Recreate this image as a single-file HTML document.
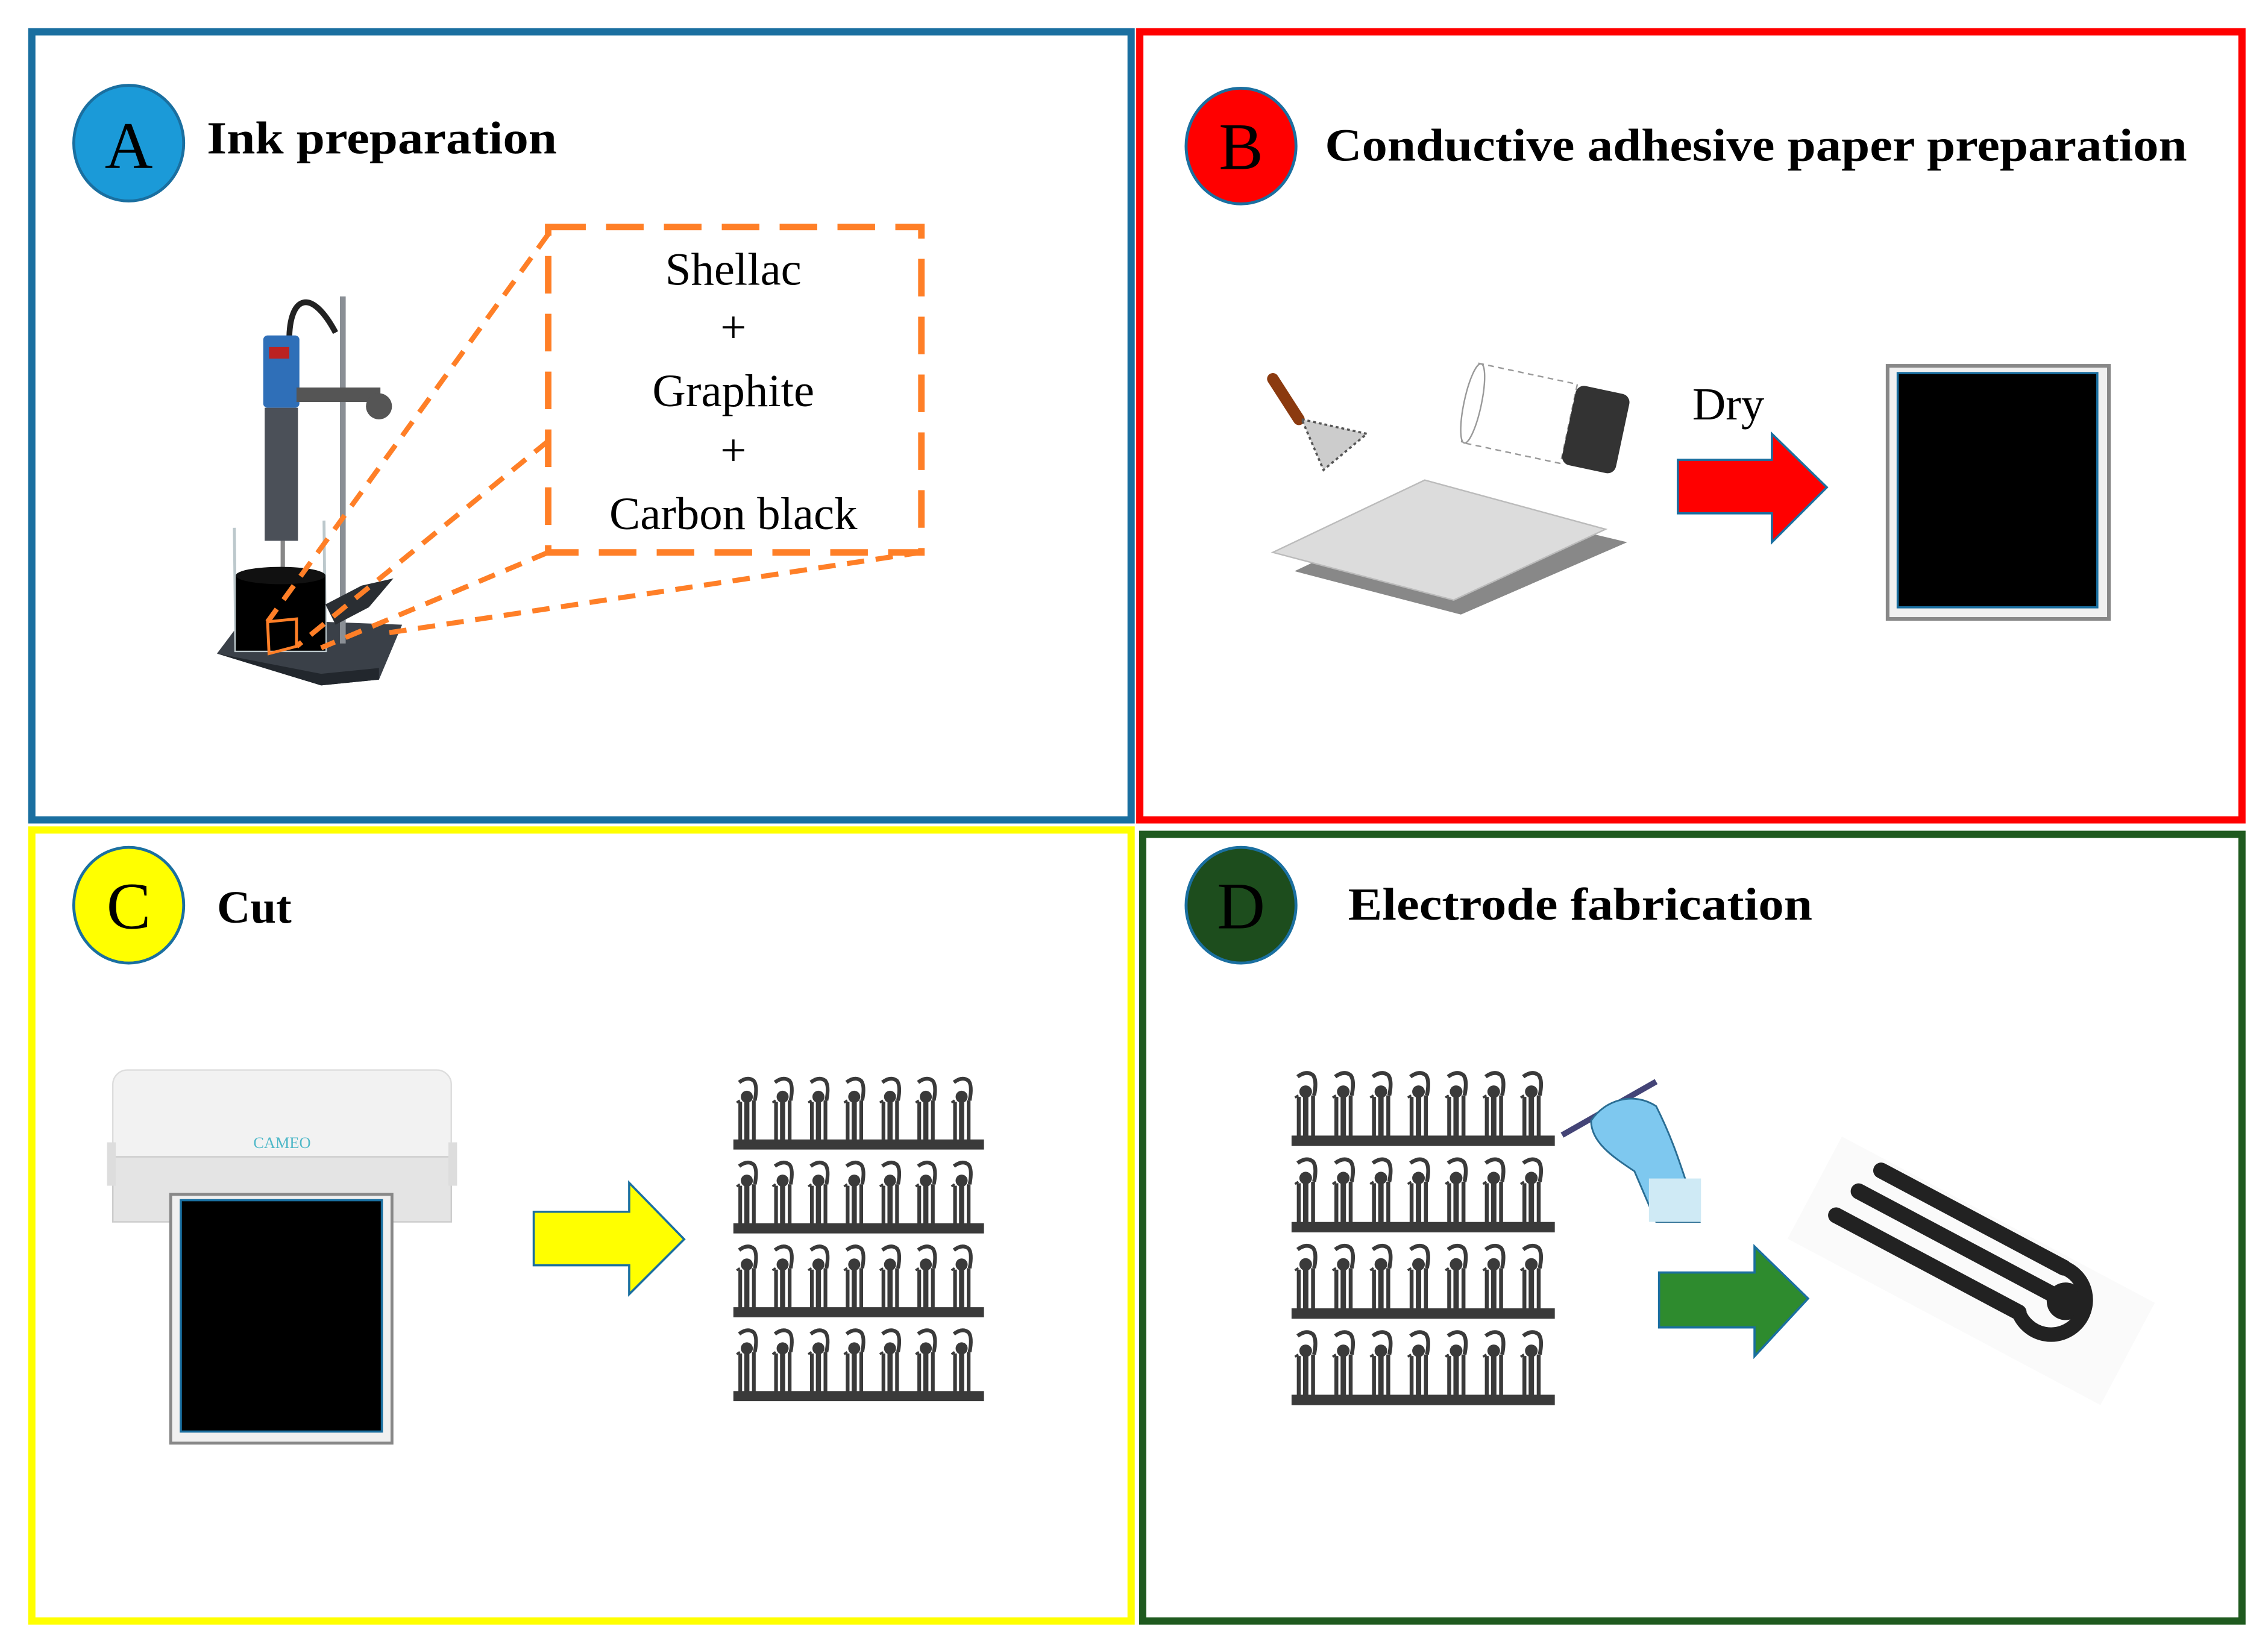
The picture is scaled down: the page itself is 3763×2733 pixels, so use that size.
<!DOCTYPE html>
<html><head><meta charset="utf-8"><style>
html,body{margin:0;padding:0;background:#fff}
svg{display:block}
text{font-family:"Liberation Serif",serif}
</style></head><body>
<svg width="3763" height="2733" viewBox="0 0 1568 1139" preserveAspectRatio="none" xmlns="http://www.w3.org/2000/svg">
<defs>
<g id="u">
<rect x="1.5" y="18" width="2.6" height="28" fill="#3a3a3a"/>
<rect x="5.6" y="15" width="3.6" height="31" fill="#3a3a3a"/>
<circle cx="7.4" cy="14.5" r="4.2" fill="#3a3a3a"/>
<rect x="11" y="17" width="2.6" height="29" fill="#3a3a3a"/>
<path d="M2 4.5 Q8 0 12.3 3.5 Q15 7 13 17" fill="none" stroke="#3a3a3a" stroke-width="2.6"/>
<path d="M0.3 18.5 L2.5 17" stroke="#3a3a3a" stroke-width="1.5"/>
</g>
<g id="row">
<use href="#u" x="0"/><use href="#u" x="25"/><use href="#u" x="50"/><use href="#u" x="75"/><use href="#u" x="100"/><use href="#u" x="125"/><use href="#u" x="150"/>
<rect x="-2" y="44" width="175" height="7" fill="#3a3a3a"/>
</g>
<g id="grid">
<use href="#row" y="0"/><use href="#row" y="58"/><use href="#row" y="116"/><use href="#row" y="174"/>
</g>
</defs>
<rect width="1568" height="1139" fill="#fff"/>

<!-- Panel A -->
<rect x="22" y="22" width="760" height="545" fill="none" stroke="#1a6fa0" stroke-width="5"/>
<ellipse cx="89" cy="99" rx="38" ry="40" fill="#1b9ad8" stroke="#1a6fa0" stroke-width="2"/>
<text x="89" y="116" font-size="46" text-anchor="middle">A</text>
<text x="143" y="106" font-size="32" font-weight="bold" textLength="242" lengthAdjust="spacingAndGlyphs">Ink preparation</text>
<polygon points="150,452 168,428 278,432 262,470 222,474" fill="#3a4048"/>
<polygon points="150,452 222,466 262,462 262,470 222,474" fill="#22272d"/>
<rect x="235" y="205" width="4" height="240" fill="#8a8f95"/>
<path d="M200 235 C200 205 215 198 232 230" fill="none" stroke="#222" stroke-width="4"/>
<rect x="182" y="232" width="25" height="50" rx="3" fill="#2f6fb8"/>
<rect x="186" y="240" width="14" height="8" fill="#b22"/>
<rect x="183" y="282" width="23" height="92" fill="#4b5058"/>
<rect x="205" y="268" width="58" height="10" fill="#555"/>
<circle cx="262" cy="281" r="9" fill="#555"/>
<rect x="194" y="374" width="3" height="60" fill="#888"/>
<path d="M162 365 L163 450 L225 450 L224 360" fill="none" stroke="#bcc8cc" stroke-width="2"/>
<rect x="163" y="398" width="62" height="52" fill="#000"/>
<ellipse cx="194" cy="398" rx="31" ry="6" fill="#111"/>
<path d="M225 418 L250 405 L272 400 L255 420 L232 432 Z" fill="#2a2e33"/>
<g stroke="#ff7f27" stroke-width="3.5" fill="none" stroke-dasharray="12,8">
<rect x="379" y="157" width="258" height="225" stroke-width="4.5" stroke-dasharray="26,14"/>
<line x1="379" y1="162" x2="185" y2="430"/>
<line x1="379" y1="305" x2="205" y2="447"/>
<line x1="379" y1="382" x2="222" y2="448"/>
<line x1="637" y1="382" x2="266" y2="438"/>
</g>
<path d="M185 430 L205 428 L205 447 L186 452 Z" fill="none" stroke="#ff7f27" stroke-width="2"/>
<g font-size="32" text-anchor="middle">
<text x="507" y="197">Shellac</text>
<text x="507" y="237">+</text>
<text x="507" y="281">Graphite</text>
<text x="507" y="322">+</text>
<text x="507" y="366">Carbon black</text>
</g>

<!-- Panel B -->
<rect x="788" y="22" width="762" height="545" fill="none" stroke="#ff0000" stroke-width="5"/>
<ellipse cx="858" cy="101" rx="38" ry="40" fill="#ff0000" stroke="#1a6fa0" stroke-width="2"/>
<text x="858" y="117" font-size="46" text-anchor="middle">B</text>
<text x="916" y="111" font-size="32" font-weight="bold" textLength="596" lengthAdjust="spacingAndGlyphs">Conductive adhesive paper preparation</text>
<polygon points="895,395 1000,345 1125,375 1010,425" fill="#888"/>
<polygon points="880,382 985,332 1110,366 1005,415" fill="#dcdcdc" stroke="#bbb"/>
<path d="M880 262 L898 290" stroke="#8b3a0f" stroke-width="8" stroke-linecap="round"/>
<polygon points="900,290 945,300 915,325" fill="#ccc" stroke="#555" stroke-width="1.5" stroke-dasharray="2,2"/>
<g transform="rotate(12 1070 290)">
<rect x="1015" y="262" width="70" height="56" fill="#fff" stroke="#999" stroke-dasharray="4,3"/>
<ellipse cx="1017" cy="290" rx="6" ry="28" fill="#fff" stroke="#999"/>
<rect x="1085" y="262" width="38" height="56" rx="6" fill="#333"/>
</g>
<text x="1170" y="290" font-size="32">Dry</text>
<polygon points="1160,318 1225,318 1225,300 1263,337 1225,375 1225,355 1160,355" fill="#ff0000" stroke="#1a6fa0" stroke-width="1.5"/>
<rect x="1305" y="253" width="153" height="175" fill="#f0f0f0" stroke="#888" stroke-width="2.5"/>
<rect x="1312" y="258" width="138" height="162" fill="#000" stroke="#1a6fa0" stroke-width="1.5"/>

<!-- Panel C -->
<rect x="22" y="574" width="760" height="547" fill="none" stroke="#ffff00" stroke-width="5"/>
<ellipse cx="89" cy="626" rx="38" ry="40" fill="#ffff00" stroke="#1a6fa0" stroke-width="2"/>
<text x="89" y="642" font-size="46" text-anchor="middle">C</text>
<text x="150" y="638" font-size="32" font-weight="bold">Cut</text>
<rect x="78" y="740" width="234" height="82" rx="10" fill="#f2f2f2" stroke="#ddd"/>
<rect x="78" y="800" width="234" height="45" fill="#e4e4e4" stroke="#ccc"/>
<rect x="74" y="790" width="6" height="30" fill="#ddd"/>
<rect x="310" y="790" width="6" height="30" fill="#ddd"/>
<text x="195" y="794" font-size="11" fill="#4fb8c8" text-anchor="middle" font-family="Liberation Sans,sans-serif">CAMEO</text>
<rect x="118" y="826" width="153" height="172" fill="#f0f0f0" stroke="#888" stroke-width="2"/>
<rect x="125" y="830" width="139" height="160" fill="#000" stroke="#1a6fa0" stroke-width="1.5"/>
<polygon points="369,838 435,838 435,818 473,857 435,895 435,875 369,875" fill="#ffff00" stroke="#1a6fa0" stroke-width="1.5"/>
<use href="#grid" transform="translate(509 744) scale(0.99 1)"/>

<!-- Panel D -->
<rect x="790" y="577" width="760" height="544" fill="none" stroke="#1f5a1f" stroke-width="5"/>
<ellipse cx="858" cy="626" rx="38" ry="40" fill="#1d4d1d" stroke="#1a6fa0" stroke-width="2"/>
<text x="858" y="642" font-size="46" text-anchor="middle">D</text>
<text x="932" y="636" font-size="32" font-weight="bold" textLength="321" lengthAdjust="spacingAndGlyphs">Electrode fabrication</text>
<use href="#grid" transform="translate(895 740) scale(1.04 1.03)"/>
<path d="M1080 785 L1145 748" stroke="#447" stroke-width="4"/>
<path d="M1100 775 C1110 760 1130 755 1145 765 C1155 785 1160 800 1165 815 L1175 845 L1145 845 L1130 810 C1115 800 1100 790 1100 775 Z" fill="#7ec8ef" stroke="#2a6d93" stroke-width="1.2"/>
<rect x="1140" y="815" width="36" height="30" fill="#cfeaf5"/>
<polygon points="1147,880 1213,880 1213,862 1250,898 1213,938 1213,918 1147,918" fill="#2e8b2e" stroke="#1a6fa0" stroke-width="1.5"/>
<g transform="rotate(28 1365 880)">
<rect x="1240" y="840" width="245" height="80" fill="#fafafa"/>
<path d="M1275 848 L1418 848" stroke="#222" stroke-width="11" stroke-linecap="round"/>
<path d="M1268 868 L1418 868" stroke="#222" stroke-width="11" stroke-linecap="round"/>
<path d="M1262 890 L1405 890" stroke="#222" stroke-width="11" stroke-linecap="round"/>
<circle cx="1430" cy="868" r="13" fill="#222"/>
<path d="M1418 848 A24 24 0 1 1 1405 890" fill="none" stroke="#222" stroke-width="10"/>
</g>
</svg>
</body></html>
